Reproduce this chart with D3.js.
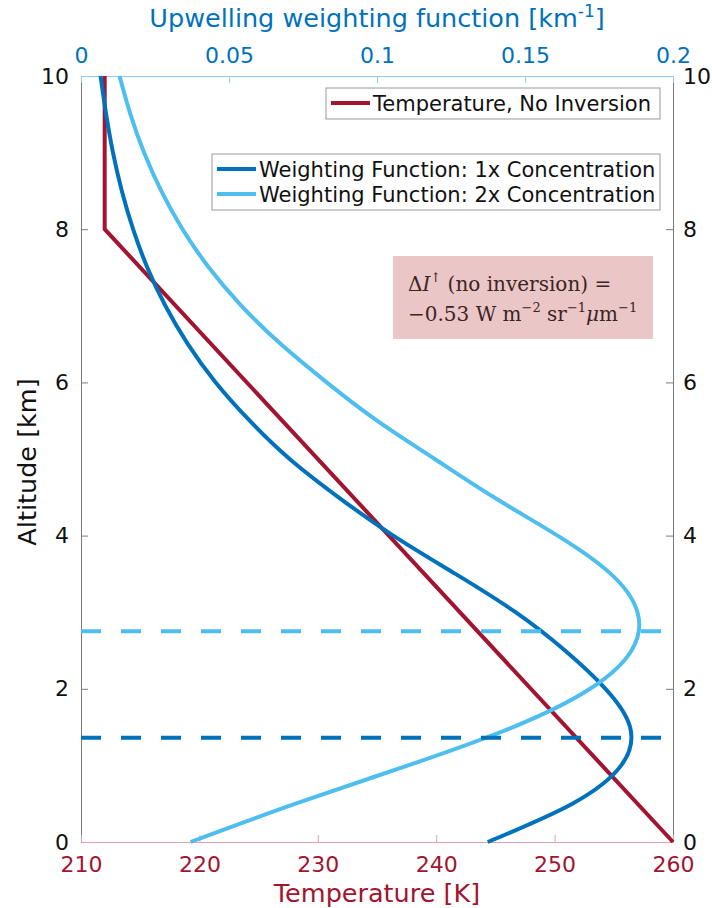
<!DOCTYPE html>
<html>
<head>
<meta charset="utf-8">
<script src="https://cdn.jsdelivr.net/npm/d3@7"></script>
<style>
  body { margin: 0; background: #fff; }
  svg { font-family: 'DejaVu Sans', sans-serif; }
</style>
</head>
<body>
<svg width="712" height="908"></svg>
<script>
// altitude grid (km) for the weighting functions
const altitude = [0, 0.5, 1, 1.5, 2, 2.5, 3, 3.5, 4, 4.5, 5, 5.5, 6, 6.5, 7, 7.5, 8, 8.5, 9, 9.5, 10]
const weight1x = [0.1374, 0.166, 0.1825, 0.1855, 0.1772, 0.1635, 0.1468, 0.1265, 0.1055, 0.087, 0.0705, 0.057, 0.0455, 0.0361, 0.0285, 0.0224, 0.0176, 0.0138, 0.0108, 0.0085, 0.0066]
const weight2x = [0.037, 0.0725, 0.1105, 0.146, 0.172, 0.186, 0.188, 0.179, 0.161, 0.1395, 0.1195, 0.1, 0.083, 0.0675, 0.0542, 0.0432, 0.0343, 0.0271, 0.0213, 0.0167, 0.013]
// temperature profile, no inversion
const tempAltitude = [0, 8, 10]
const temperature = [260, 212, 212]
// altitude of each weighting function peak
const peakAltitude = [1.36, 2.75]

const altTicks = [0, 2, 4, 6, 8, 10]
const tempTicks = [210, 220, 230, 240, 250, 260]
const weightTicks = [0, 0.05, 0.1, 0.15, 0.2]

const red = '#a2142f'
const blue = '#0072bd'
const lightBlue = '#4dbeee'

const svg = d3.select('svg')
const plotLeft = 81
const plotRight = 673
const plotTop = 76
const plotBottom = 842

const x = d3.scaleLinear().domain([210, 260]).range([plotLeft, plotRight])
const xw = d3.scaleLinear().domain([0, 0.2]).range([plotLeft, plotRight])
const y = d3.scaleLinear().domain([0, 10]).range([plotBottom, plotTop])

// axes
const styleAxis = (g, lineColor, textColor) => {
  g.select('.domain').attr('stroke', lineColor)
  g.selectAll('.tick line').attr('stroke', lineColor)
  g.selectAll('.tick text').attr('fill', textColor).attr('font-size', 22)
    .attr('font-family', 'DejaVu Sans')
}

svg.append('g')
  .attr('transform', `translate(${plotLeft},0)`)
  .call(d3.axisLeft(y).tickValues(altTicks).tickSizeInner(-7).tickSizeOuter(0).tickPadding(12))
  .call((g) => styleAxis(g, '#7a7a7a', '#111'))

svg.append('g')
  .attr('transform', `translate(${plotRight},0)`)
  .call(d3.axisRight(y).tickValues(altTicks).tickSizeInner(-7).tickSizeOuter(0).tickPadding(10))
  .call((g) => styleAxis(g, '#7a7a7a', '#111'))

svg.append('g')
  .attr('transform', `translate(0,${plotBottom})`)
  .call(d3.axisBottom(x).tickValues(tempTicks).tickSizeInner(-7).tickSizeOuter(0).tickPadding(14))
  .call((g) => styleAxis(g, '#dba3ad', red))

svg.append('g')
  .attr('transform', `translate(0,${plotTop})`)
  .call(d3.axisTop(xw).tickValues(weightTicks).tickFormat(d3.format('~g')).tickSizeInner(-7).tickSizeOuter(0).tickPadding(13))
  .call((g) => styleAxis(g, '#93c8ec', blue))

// axis titles
svg.append('text')
  .attr('x', (plotLeft + plotRight) / 2).attr('y', 902)
  .attr('text-anchor', 'middle').attr('font-size', 25.5).attr('fill', red)
  .text('Temperature [K]')

const topTitle = svg.append('text')
  .attr('x', (plotLeft + plotRight) / 2).attr('y', 27)
  .attr('text-anchor', 'middle').attr('font-size', 25.5).attr('fill', blue)
topTitle.append('tspan').text('Upwelling weighting function [km')
topTitle.append('tspan').attr('font-size', 17).attr('dy', -10).text('-1')
topTitle.append('tspan').attr('dy', 10).text(']')

svg.append('text')
  .attr('transform', `translate(36,${(plotTop + plotBottom) / 2 + 3}) rotate(-90)`)
  .attr('text-anchor', 'middle').attr('font-size', 25.5).attr('fill', '#111')
  .text('Altitude [km]')

// lines
const tempLine = d3.line()
  .x((d, i) => x(temperature[i]))
  .y((d) => y(d))

svg.append('path')
  .attr('d', tempLine(tempAltitude))
  .attr('fill', 'none').attr('stroke', red).attr('stroke-width', 4)

const weightLine = (values) => d3.line()
  .x((d, i) => xw(values[i]))
  .y((d) => y(d))
  .curve(d3.curveNatural)(altitude)

svg.append('path')
  .attr('d', weightLine(weight1x))
  .attr('fill', 'none').attr('stroke', blue).attr('stroke-width', 4)

svg.append('path')
  .attr('d', weightLine(weight2x))
  .attr('fill', 'none').attr('stroke', lightBlue).attr('stroke-width', 4)

// dashed lines at the peaks
svg.selectAll('.peak')
  .data(peakAltitude)
  .join('line')
  .attr('class', 'peak')
  .attr('x1', plotLeft).attr('x2', plotRight)
  .attr('y1', (d) => y(d)).attr('y2', (d) => y(d))
  .attr('stroke', (d, i) => (i === 0 ? blue : lightBlue))
  .attr('stroke-width', 4)
  .attr('stroke-dasharray', '20,20')

// legends
const legend = (x0, y0, w, items) => {
  const g = svg.append('g')
  g.append('rect')
    .attr('x', x0).attr('y', y0).attr('width', w).attr('height', items.length * 25 + 6)
    .attr('fill', '#fff').attr('stroke', '#999').attr('stroke-width', 1)
  items.forEach(([label, color], i) => {
    const cy = y0 + 15 + i * 25
    g.append('line')
      .attr('x1', x0 + 5).attr('x2', x0 + 44).attr('y1', cy).attr('y2', cy)
      .attr('stroke', color).attr('stroke-width', 4)
    g.append('text')
      .attr('x', x0 + 47).attr('y', cy + 7.5)
      .attr('font-size', 21).attr('fill', '#111')
      .text(label)
  })
}

legend(326, 88, 334, [['Temperature, No Inversion', red]])
legend(212, 154, 448, [
  ['Weighting Function: 1x Concentration', blue],
  ['Weighting Function: 2x Concentration', lightBlue],
])

// annotation box
svg.append('rect')
  .attr('x', 393).attr('y', 256).attr('width', 260).attr('height', 83)
  .attr('fill', '#ebc6c6')

const note = svg.append('text')
  .attr('font-family', "'DejaVu Serif', serif").attr('font-size', 20).attr('fill', '#3a2424')
const line1 = note.append('tspan').attr('x', 408).attr('y', 291)
line1.append('tspan').text('Δ')
line1.append('tspan').attr('font-style', 'italic').text('I')
line1.append('tspan').attr('font-size', 13).attr('dy', -9).text('↑')
line1.append('tspan').attr('dy', 9).text(' (no inversion) =')
const line2 = note.append('tspan').attr('x', 408).attr('y', 321)
line2.append('tspan').text('−0.53 W m')
line2.append('tspan').attr('font-size', 13).attr('dy', -9).text('−2')
line2.append('tspan').attr('dy', 9).text(' sr')
line2.append('tspan').attr('font-size', 13).attr('dy', -9).text('−1')
line2.append('tspan').attr('dy', 9).attr('font-style', 'italic').text('μ')
line2.append('tspan').text('m')
line2.append('tspan').attr('font-size', 13).attr('dy', -9).text('−1')
</script>
</body>
</html>
